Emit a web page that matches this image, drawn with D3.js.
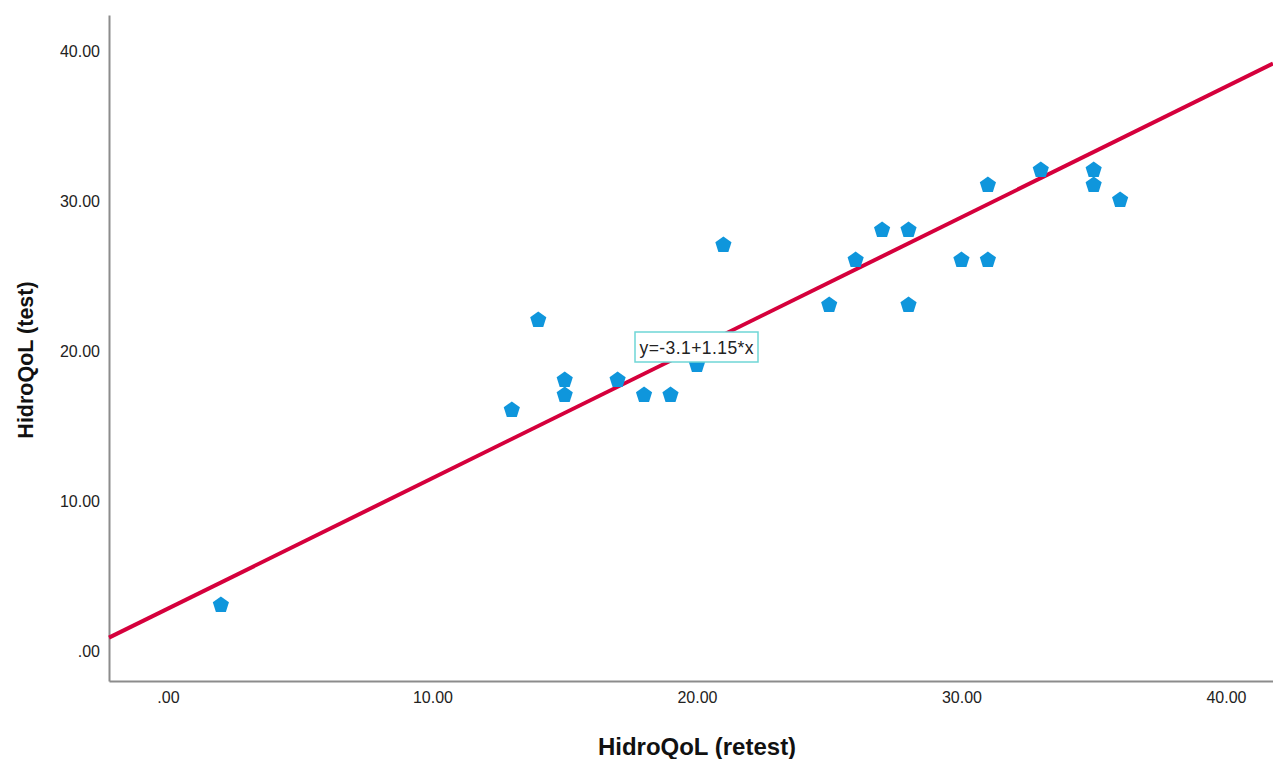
<!DOCTYPE html>
<head>
<meta charset="utf-8">
<style>

body {
  margin: 0;
  background: #fff;
}

.axis path {
  stroke: #8c8c8c;
  stroke-width: 2px;
}

.axis text {
  font-family: "Liberation Sans", Arial, sans-serif;
  font-size: 16px;
  fill: #222;
}

.title {
  font-family: "Liberation Sans", Arial, sans-serif;
  font-weight: bold;
  fill: #111;
}

.fit {
  fill: none;
  stroke: #d5003c;
  stroke-width: 4px;
}

.dot {
  fill: #0f96dc;
}

</style>
<title>HidroQoL test-retest</title>
</head>
<body>
<script src="https://cdn.jsdelivr.net/npm/d3@7/dist/d3.min.js"></script>
<script>

var width = 1273,
    height = 759;

// retest (x) vs test (y)
var retest = [2, 13, 14, 15, 15, 17, 18, 19, 20, 21, 25, 26, 27, 28, 28, 30, 31, 31, 33, 35, 35, 36];
var test   = [3, 16, 22, 18, 17, 18, 17, 17, 19, 27, 23, 26, 28, 28, 23, 26, 26, 31, 32, 32, 31, 30];

var xTicks = [0, 10, 20, 30, 40];
var yTicks = [0, 10, 20, 30, 40];

// fit label as printed; the line drawn is x = a + b*y
var fitA = -3.1,
    fitB = 1.15;
var fitLabel = "y=-3.1+1.15*x";

var x = d3.scaleLinear().domain([-2.23, 41.78]).range([109, 1273]);
var y = d3.scaleLinear().domain([-2.0, 42.4]).range([681, 15]);

var svg = d3.select("body").append("svg")
    .attr("width", width)
    .attr("height", height);

var fmt = function(v) { return v === 0 ? ".00" : d3.format(".2f")(v); };

svg.append("g")
    .attr("class", "axis")
    .attr("transform", "translate(0," + y.range()[0] + ")")
    .call(d3.axisBottom(x).tickValues(xTicks).tickFormat(fmt).tickSize(0).tickPadding(14).tickSizeOuter(0))
    .selectAll("text").attr("dy", "0.5em");

svg.append("g")
    .attr("class", "axis")
    .attr("transform", "translate(" + x.range()[0] + ",0)")
    .call(d3.axisLeft(y).tickValues(yTicks).tickFormat(fmt).tickSize(0).tickPadding(9).tickSizeOuter(0));

// fit line
var x0 = x.domain()[0], x1 = x.domain()[1];
svg.append("path")
    .attr("class", "fit")
    .attr("d", d3.line()([
      [x(x0), y((x0 - fitA) / fitB) - 2],
      [x(x1), y((x1 - fitA) / fitB) - 2]
    ]));

// pentagon markers
var r = 8.5;
var pent = d3.range(5).map(function(i) {
  var a = -Math.PI / 2 + i * 2 * Math.PI / 5;
  return [r * Math.cos(a), r * Math.sin(a)];
});

svg.selectAll(".dot")
    .data(retest)
  .enter().append("path")
    .attr("class", "dot")
    .attr("d", "M" + pent.join("L") + "Z")
    .attr("transform", function(d, i) { return "translate(" + x(d) + "," + (y(test[i]) - 1) + ")"; });

// fit label box
var lab = svg.append("g").attr("transform", "translate(635,332)");
lab.append("rect")
    .attr("width", 123)
    .attr("height", 30)
    .attr("fill", "#fff")
    .attr("stroke", "#6fd6d6")
    .attr("stroke-width", 1.5);
lab.append("text")
    .attr("x", 61.5)
    .attr("y", 21.5)
    .attr("text-anchor", "middle")
    .attr("textLength", 114)
    .style("font-family", "Liberation Sans, Arial, sans-serif")
    .style("font-size", "17.5px")
    .style("fill", "#222")
    .text(fitLabel);

svg.append("text")
    .attr("class", "title")
    .attr("x", 697)
    .attr("y", 755)
    .attr("text-anchor", "middle")
    .style("font-size", "24px")
    .text("HidroQoL (retest)");

svg.append("text")
    .attr("class", "title")
    .attr("transform", "translate(33,360)rotate(-90)")
    .attr("text-anchor", "middle")
    .style("font-size", "21.5px")
    .text("HidroQoL (test)");

</script>
